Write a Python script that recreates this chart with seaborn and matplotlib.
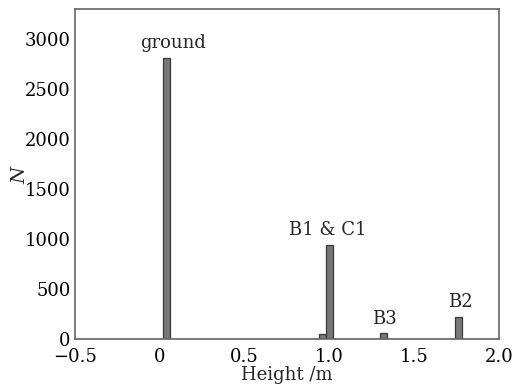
import numpy as np
import pandas as pd
import matplotlib
matplotlib.use("Agg")
import matplotlib.pyplot as plt
import seaborn as sns

# Histogram of point heights (bin centres, counts per 0.04 m bin)
bin_centers = [0.04, 0.96, 1.00, 1.32, 1.76]
counts = [2815, 50, 945, 62, 225]

# Class labels placed above their peaks
label_texts = ["ground", "B1 & C1", "B3", "B2"]
label_x = [0.08, 0.99, 1.325, 1.77]
label_y = [2815, 945, 62, 225]

x_ticks = [-0.5, 0, 0.5, 1.0, 1.5, 2.0]
x_tick_labels = ["\u22120.5", "0", "0.5", "1.0", "1.5", "2.0"]
y_ticks = [0, 500, 1000, 1500, 2000, 2500, 3000]

sns.set_theme(style="white")
plt.rcParams["font.family"] = ["DejaVu Serif"]
plt.rcParams["mathtext.fontset"] = "dejavuserif"

df = pd.DataFrame({"height": bin_centers, "n": counts})

fig = plt.figure(figsize=(5.15, 3.84), dpi=100)
ax = fig.add_axes([0.1456, 0.1164, 0.8239, 0.8594])

sns.histplot(data=df, x="height", weights="n", binwidth=0.04,
             binrange=(-0.5, 2.02), ax=ax,
             color="#777777", edgecolor="#3a3a3a", linewidth=0.9, alpha=1.0)

ax.set_xlim(-0.5, 2.0)
ax.set_ylim(0, 3300)
ax.set_xticks(x_ticks)
ax.set_xticklabels(x_tick_labels)
ax.set_yticks(y_ticks)
ax.tick_params(axis="both", direction="in", length=3, width=0.8,
               colors="#555555", labelcolor="black", labelsize=13)
ax.tick_params(axis="x", pad=6)
ax.tick_params(axis="y", pad=3)

for s in ax.spines.values():
    s.set_color("#666666")
    s.set_linewidth(1.2)

ax.set_xlabel("Height /m", fontsize=13, labelpad=0)
ax.set_ylabel("$N$", fontsize=14, labelpad=-3)

for t, x, y in zip(label_texts, label_x, label_y):
    ax.annotate(t, xy=(x, y), xytext=(0, 4), textcoords="offset points",
                ha="center", va="bottom", fontsize=13)

fig.savefig("out.png", dpi=100)
